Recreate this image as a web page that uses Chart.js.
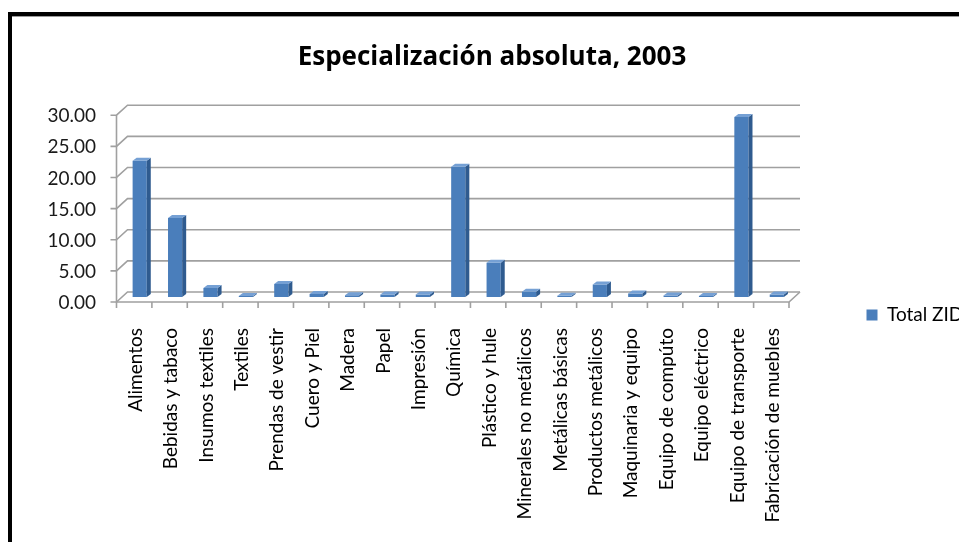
<!DOCTYPE html>
<html>
<head>
<meta charset="utf-8">
<script src="https://cdn.jsdelivr.net/npm/chart.js@4.4.0/dist/chart.umd.min.js"></script>
<style>
    html, body { margin: 0; padding: 0; background: #fff; width: 959px; height: 542px; overflow: hidden; }
    #frame { position: absolute; left: 8px; top: 12px; width: 1000px; height: 700px;
             border-left: 4px solid #000; border-top: 4px solid #000; box-shadow: inset 0 1px 0 #9a9a9a; }
    #wrap { position: absolute; left: 12px; top: 16px; }
</style>
</head>
<body>
<div id="frame"></div>
<div id="wrap"><canvas id="chart" width="960" height="598"></canvas></div>
<script>
// sectors (x axis)
const sectors = [
    'Alimentos', 'Bebidas y tabaco', 'Insumos textiles', 'Textiles', 'Prendas de vestir',
    'Cuero y Piel', 'Madera', 'Papel', 'Impresión', 'Química', 'Plástico y hule',
    'Minerales no metálicos', 'Metálicas básicas', 'Productos metálicos', 'Maquinaria y equipo',
    'Equipo de compúto', 'Equipo eléctrico', 'Equipo de transporte', 'Fabricación de muebles'
];
// Total ZID
const totalZID = [21.9, 12.7, 1.45, 0.15, 2.1, 0.5, 0.3, 0.4, 0.4, 20.9, 5.5, 0.85, 0.2, 2.0, 0.55, 0.25, 0.15, 28.9, 0.4];
const yTicks = [0, 5, 10, 15, 20, 25, 30];

const FRONT = '#4a7ebb', SIDE = '#2f5b8f', TOP = '#75a0d4';
const DX = 5.5, DY = 5;   // half depth of the 3d box

// back wall gridlines, floor and axis lines (Excel 3d look)
const wallPlugin = {
    id: 'wall',
    beforeDatasetsDraw(chart) {
        const { ctx, chartArea: { left, right }, scales: { x, y } } = chart;
        const base = y.getPixelForValue(0);
        const top = y.getPixelForValue(y.max);
        ctx.save();
        ctx.strokeStyle = '#a0a0a0';
        ctx.lineWidth = 1.6;
        y.ticks.forEach(t => {
            const py = y.getPixelForValue(t.value);
            ctx.beginPath();
            ctx.moveTo(left - DX - 6, py + DY);
            ctx.lineTo(left - DX, py + DY);
            ctx.lineTo(left + DX, py - DY);
            ctx.lineTo(right + DX, py - DY);
            ctx.stroke();
        });
        ctx.beginPath();
        ctx.moveTo(left - DX, top + DY);
        ctx.lineTo(left - DX, base + DY);
        ctx.lineTo(right - DX, base + DY);
        ctx.lineTo(right + DX, base - DY);
        ctx.stroke();
        const w = (right - left) / sectors.length;
        for (let i = 0; i <= sectors.length; i++) {
            const px = left - DX + i * w;
            ctx.beginPath();
            ctx.moveTo(px, base + DY);
            ctx.lineTo(px, base + DY + 6);
            ctx.stroke();
        }
        ctx.restore();
    }
};

// side and top faces of each bar
const bar3dPlugin = {
    id: 'bar3d',
    afterDatasetsDraw(chart) {
        const ctx = chart.ctx;
        const dx = 4, dy = 3;
        ctx.save();
        chart.getDatasetMeta(0).data.forEach(bar => {
            const { x, y, base, width } = bar.getProps(['x', 'y', 'base', 'width'], true);
            const l = x - width / 2, r = x + width / 2;
            ctx.fillStyle = SIDE;
            ctx.beginPath();
            ctx.moveTo(r, y); ctx.lineTo(r + dx, y - dy); ctx.lineTo(r + dx, base - dy); ctx.lineTo(r, base);
            ctx.closePath(); ctx.fill();
            ctx.fillStyle = TOP;
            ctx.beginPath();
            ctx.moveTo(l, y); ctx.lineTo(l + dx, y - dy); ctx.lineTo(r + dx, y - dy); ctx.lineTo(r, y);
            ctx.closePath(); ctx.fill();
        });
        ctx.restore();
    }
};

new Chart(document.getElementById('chart'), {
    type: 'bar',
    data: {
        labels: sectors,
        datasets: [{
            label: 'Total ZID',
            data: totalZID,
            backgroundColor: FRONT,
            borderWidth: 0,
            barPercentage: 0.4,
            categoryPercentage: 1
        }]
    },
    options: {
        responsive: false,
        animation: false,
        layout: { padding: 0 },
        plugins: {
            title: {
                display: true,
                text: 'Especialización absoluta, 2003',
                color: '#000',
                font: { family: 'Open Sans', size: 26, weight: 'bold' },
                padding: { top: 26, bottom: 37 }
            },
            legend: {
                position: 'right',
                maxWidth: 177.5,
                labels: {
                    color: '#000',
                    font: { family: 'Lato', size: 19 },
                    boxWidth: 11,
                    boxHeight: 11,
                    padding: 72
                }
            },
            tooltip: { enabled: false }
        },
        scales: {
            x: {
                grid: { display: false },
                border: { display: false },
                afterFit: s => { s.height = 317; },
                ticks: {
                    color: '#000',
                    font: { family: 'Lato', size: 19 },
                    autoSkip: false,
                    minRotation: 90,
                    maxRotation: 90,
                    padding: 23,
                    labelOffset: -4
                }
            },
            y: {
                min: 0,
                max: 30,
                grid: { display: false },
                border: { display: false },
                afterFit: s => { s.width = 110; },
                afterBuildTicks: s => { s.ticks = yTicks.map(v => ({ value: v })); },
                ticks: {
                    color: '#1a1a1a',
                    font: { family: 'Lato', size: 19 },
                    padding: 18,
                    labelOffset: 6,
                    callback: v => v.toFixed(2)
                }
            }
        }
    },
    plugins: [wallPlugin, bar3dPlugin]
});
</script>
</body>
</html>
